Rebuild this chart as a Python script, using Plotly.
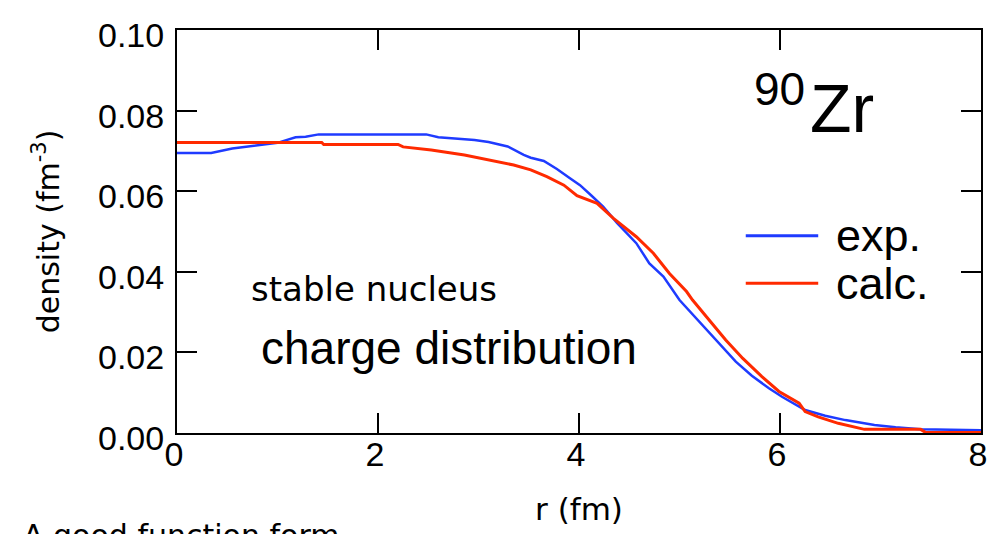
import plotly.graph_objects as go

# ---- data ----
r_exp = [0, 0.34, 0.55, 0.82, 1.0, 1.18, 1.28, 1.41, 2.48, 2.6, 2.96, 3.1, 3.29, 3.45, 3.52,
         3.65, 3.78, 3.91, 4.01, 4.12, 4.24, 4.38, 4.47, 4.57, 4.70, 4.84, 5.0, 5.18, 5.36,
         5.56, 5.72, 5.89, 6.02, 6.25, 6.45, 6.65, 6.94, 7.15, 7.40, 8.0]
d_exp = [0.0695, 0.0695, 0.0706, 0.0715, 0.0720, 0.0734, 0.0735, 0.0741, 0.0741, 0.0734,
         0.0727, 0.0722, 0.0711, 0.0690, 0.0683, 0.0675, 0.0655, 0.0632, 0.0615, 0.0590,
         0.0562, 0.0521, 0.0497, 0.0471, 0.0421, 0.0388, 0.0330, 0.0280, 0.0231, 0.0177,
         0.0142, 0.0111, 0.0090, 0.0057, 0.0043, 0.0032, 0.0020, 0.0014, 0.0009, 0.0007]

r_calc = [0, 1.44, 1.46, 2.2, 2.25, 2.53, 2.86, 3.12, 3.35, 3.52, 3.68, 3.85, 3.98, 4.18,
          4.34, 4.57, 4.74, 4.90, 5.07, 5.13, 5.30, 5.46, 5.63, 5.82, 5.99, 6.19, 6.25,
          6.38, 6.58, 6.84, 7.40, 7.45, 8.0]
d_calc = [0.0721, 0.0721, 0.0716, 0.0716, 0.0710, 0.0702, 0.0690, 0.0677, 0.0665, 0.0653,
          0.0636, 0.0615, 0.0589, 0.0570, 0.0533, 0.0487, 0.0446, 0.0396, 0.0351, 0.0330,
          0.0280, 0.0231, 0.0185, 0.0140, 0.0103, 0.0074, 0.0053, 0.0040, 0.0024, 0.0009,
          0.0009, 0.0001, 0.0001]

x_ticks = [0, 2, 4, 6, 8]
y_ticks = [0.00, 0.02, 0.04, 0.06, 0.08, 0.10]
series_names = ["exp.", "calc."]
series_colors = ["#1f3bff", "#ff2a00"]

W, H = 993, 534
L, R, T, B = 177, 6, 30, 101

fig = go.Figure()
fig.add_trace(go.Scatter(x=r_exp, y=d_exp, mode="lines", name=series_names[0],
                         line=dict(color=series_colors[0], width=2.5), showlegend=False))
fig.add_trace(go.Scatter(x=r_calc, y=d_calc, mode="lines", name=series_names[1],
                         line=dict(color=series_colors[1], width=3), showlegend=False))

axis_common = dict(showline=True, linecolor="black", linewidth=2, mirror="ticks",
                   ticks="inside", ticklen=20, tickwidth=2, tickcolor="black",
                   showgrid=False, zeroline=False, ticklabeloverflow="allow",
                   tickfont=dict(family="Liberation Sans, Arial", size=34, color="black"))

fig.update_xaxes(range=[0, 8], tickvals=x_ticks, ticktext=[str(v) for v in x_ticks],
                 ticklabelstandoff=-10, ticklabelshift=-3,
                 title=dict(text="r (fm)", font=dict(family="DejaVu Sans", size=31, color="black"),
                            standoff=27),
                 **axis_common)
fig.update_yaxes(range=[0, 0.1], tickvals=y_ticks, ticktext=[f"{v:.2f}" for v in y_ticks],
                 ticklabelstandoff=4, ticklabelshift=5,
                 title=dict(text="density (fm<sup>-3</sup>)",
                            font=dict(family="DejaVu Sans", size=30, color="black"), standoff=30),
                 **axis_common)

# manual legend
def px2paper_x(px):
    return (px - L) / (W - L - R)

def px2paper_y(py):
    return (H - B - py) / (H - T - B)

for i, (nm, col) in enumerate(zip(series_names, series_colors)):
    yl = [235.7, 283.3][i]
    fig.add_shape(type="line", xref="paper", yref="paper",
                  x0=px2paper_x(750), x1=px2paper_x(823), y0=px2paper_y(yl), y1=px2paper_y(yl),
                  line=dict(color=col, width=3))
    fig.add_annotation(text=nm, xref="paper", yref="paper", x=px2paper_x(839), y=px2paper_y(yl),
                       xanchor="left", yanchor="middle", showarrow=False,
                       font=dict(family="Liberation Sans, Arial", size=45, color="black"))

# 90Zr label
fig.add_annotation(text="90", xref="paper", yref="paper", x=px2paper_x(812), y=px2paper_y(89),
                   xanchor="right", yanchor="middle", showarrow=False,
                   font=dict(family="Liberation Sans, Arial", size=46, color="black"))
fig.add_annotation(text="Zr", xref="paper", yref="paper", x=px2paper_x(813), y=px2paper_y(108),
                   xanchor="left", yanchor="middle", showarrow=False,
                   font=dict(family="Liberation Sans, Arial", size=68, color="black"))

fig.add_annotation(text="stable nucleus", xref="paper", yref="paper", x=px2paper_x(250),
                   y=px2paper_y(289), xanchor="left", yanchor="middle", showarrow=False,
                   font=dict(family="DejaVu Sans", size=34, color="black"))
fig.add_annotation(text="charge distribution", xref="paper", yref="paper", x=px2paper_x(260),
                   y=px2paper_y(348), xanchor="left", yanchor="middle", showarrow=False,
                   font=dict(family="Liberation Sans, Arial", size=46, color="black"))
fig.add_annotation(text="A good function form", xref="paper", yref="paper", x=px2paper_x(20),
                   y=px2paper_y(516), xanchor="left", yanchor="top", showarrow=False,
                   font=dict(family="DejaVu Sans", size=30, color="black"))

fig.update_layout(width=W, height=H, margin=dict(l=L, r=R, t=T, b=B),
                  paper_bgcolor="white", plot_bgcolor="white")

fig.write_html("out.html", config={"displayModeBar": False},
               post_script="document.body.style.margin='0px';")
